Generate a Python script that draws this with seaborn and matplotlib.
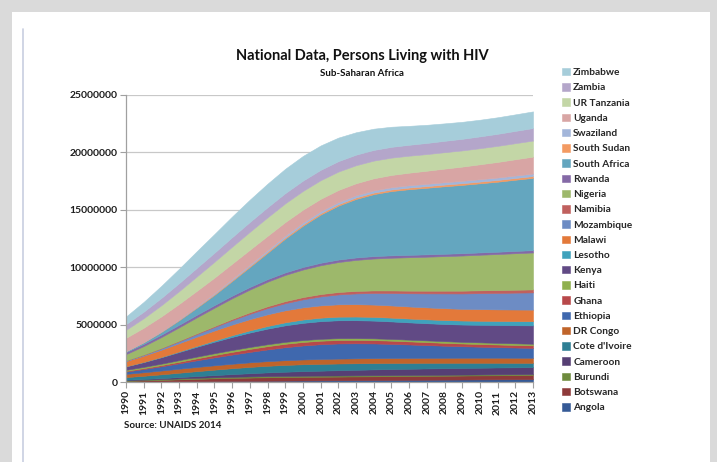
import matplotlib
matplotlib.use("Agg")
import matplotlib.pyplot as plt
import seaborn as sns
import pandas as pd
from matplotlib.patches import Rectangle
from matplotlib.lines import Line2D
from matplotlib.ticker import FuncFormatter

years = list(range(1990, 2014))

# values in thousands of persons, 1990..2013
angola = [28, 36, 45, 55, 66, 77, 88, 99, 110, 121, 132, 142, 152, 162, 172, 181, 190, 199, 208, 217, 226, 234, 242, 250]
botswana = [70, 100, 135, 175, 210, 240, 265, 285, 300, 310, 315, 318, 320, 322, 325, 328, 332, 336, 340, 344, 348, 352, 356, 360]
burundi = [58, 66, 74, 82, 89, 95, 99, 101, 102, 101, 99, 97, 95, 93, 91, 89, 87, 86, 85, 84, 83, 83, 82, 82]
cameroon = [40, 60, 85, 115, 150, 190, 235, 280, 325, 365, 400, 430, 460, 485, 510, 530, 545, 560, 570, 580, 588, 595, 600, 605]
cote_divoire = [230, 280, 330, 380, 430, 475, 515, 550, 575, 592, 600, 595, 585, 570, 550, 530, 510, 490, 470, 450, 430, 410, 390, 370]
dr_congo = [280, 305, 330, 350, 365, 378, 388, 397, 405, 410, 415, 420, 425, 428, 430, 432, 434, 436, 438, 440, 442, 443, 444, 445]
ethiopia = [200, 280, 370, 470, 580, 690, 800, 910, 1020, 1130, 1220, 1290, 1320, 1310, 1280, 1230, 1170, 1110, 1050, 1000, 960, 920, 890, 860]
ghana = [60, 80, 105, 135, 170, 205, 235, 262, 285, 300, 305, 305, 300, 295, 290, 280, 270, 260, 250, 240, 235, 230, 225, 222]
haiti = [95, 110, 125, 140, 150, 158, 163, 166, 168, 168, 166, 163, 160, 157, 155, 152, 150, 148, 146, 144, 142, 141, 140, 139]
kenya = [300, 420, 560, 710, 860, 1000, 1140, 1260, 1360, 1440, 1500, 1540, 1560, 1560, 1545, 1525, 1505, 1495, 1495, 1505, 1525, 1550, 1575, 1600]
lesotho = [8, 15, 28, 48, 75, 110, 150, 190, 230, 265, 290, 305, 315, 320, 325, 330, 335, 340, 345, 350, 355, 358, 360, 362]
malawi = [450, 540, 630, 720, 800, 870, 930, 980, 1020, 1045, 1060, 1070, 1075, 1075, 1070, 1060, 1050, 1040, 1030, 1020, 1015, 1010, 1010, 1010]
mozambique = [50, 80, 120, 170, 230, 300, 380, 460, 540, 620, 700, 780, 860, 940, 1010, 1080, 1150, 1220, 1290, 1340, 1390, 1430, 1470, 1500]
namibia = [10, 18, 30, 45, 65, 85, 110, 135, 160, 180, 195, 205, 212, 218, 222, 226, 230, 234, 238, 242, 246, 250, 254, 258]
nigeria = [550, 740, 950, 1170, 1390, 1600, 1800, 1980, 2140, 2280, 2400, 2510, 2610, 2700, 2780, 2850, 2910, 2960, 3010, 3060, 3100, 3140, 3180, 3220]
rwanda = [180, 195, 210, 220, 225, 228, 228, 226, 224, 222, 220, 218, 216, 214, 212, 210, 208, 206, 205, 204, 203, 202, 201, 200]
south_africa = [60, 130, 240, 400, 620, 900, 1280, 1750, 2300, 2950, 3600, 4200, 4700, 5100, 5400, 5600, 5720, 5800, 5880, 5950, 6020, 6100, 6200, 6300]
south_sudan = [20, 30, 40, 50, 60, 70, 80, 90, 100, 108, 115, 120, 125, 130, 134, 138, 141, 144, 146, 148, 150, 152, 153, 155]
swaziland = [8, 15, 25, 40, 58, 78, 98, 118, 135, 150, 163, 172, 180, 186, 190, 194, 197, 200, 203, 206, 208, 210, 212, 214]
uganda = [1150, 1230, 1290, 1330, 1350, 1350, 1330, 1290, 1240, 1180, 1120, 1080, 1060, 1050, 1055, 1070, 1100, 1140, 1190, 1240, 1300, 1360, 1420, 1480]
ur_tanzania = [700, 830, 970, 1110, 1250, 1380, 1480, 1560, 1610, 1630, 1630, 1620, 1600, 1570, 1540, 1510, 1480, 1450, 1430, 1410, 1400, 1400, 1400, 1400]
zambia = [500, 570, 640, 700, 750, 790, 830, 860, 880, 890, 900, 905, 910, 920, 930, 940, 950, 970, 990, 1010, 1030, 1050, 1070, 1090]
zimbabwe = [660, 850, 1050, 1250, 1450, 1630, 1800, 1940, 2050, 2120, 2150, 2120, 2050, 1950, 1850, 1750, 1650, 1580, 1520, 1480, 1450, 1440, 1440, 1450]

countries = ["Angola", "Botswana", "Burundi", "Cameroon", "Cote d'Ivoire", "DR Congo",
             "Ethiopia", "Ghana", "Haiti", "Kenya", "Lesotho", "Malawi", "Mozambique",
             "Namibia", "Nigeria", "Rwanda", "South Africa", "South Sudan", "Swaziland",
             "Uganda", "UR Tanzania", "Zambia", "Zimbabwe"]
series = [angola, botswana, burundi, cameroon, cote_divoire, dr_congo, ethiopia, ghana,
          haiti, kenya, lesotho, malawi, mozambique, namibia, nigeria, rwanda,
          south_africa, south_sudan, swaziland, uganda, ur_tanzania, zambia, zimbabwe]

colors = ["#355A96", "#8E3A3A", "#6E8B3D", "#563F74", "#2E7F94", "#C0642A",
          "#3F68AE", "#B8484A", "#8FB04E", "#614A85", "#3FA2BC", "#E3793A",
          "#6D8CC4", "#C0605E", "#9DB86B", "#8469A6", "#64A6BF", "#F39A62",
          "#A3B6DA", "#D8A5A4", "#C3D6A6", "#B4A6CA", "#A6CDDA"]

df = pd.DataFrame({c: [v * 1000 for v in s] for c, s in zip(countries, series)}, index=years)

sns.set_theme(style="white")
plt.rcParams['font.family'] = ['Lato', 'DejaVu Sans']

W, H = 717, 462
fig = plt.figure(figsize=(W / 100, H / 100), dpi=100, facecolor="#DADADA")
fig.patches.append(Rectangle((12 / W, 0), 698 / W, 450 / H, transform=fig.transFigure,
                             facecolor="white", edgecolor="none", zorder=-10))
fig.lines.append(Line2D([23 / W, 23 / W], [0, (H - 29) / H], transform=fig.transFigure,
                        color="#C8CEE0", lw=1.2, zorder=-5))

ax = fig.add_axes([126 / W, 80 / H, 407 / W, 287 / H])
ax.set_zorder(5)
ax.set_facecolor("white")

polys = ax.stackplot(df.index, *[df[c].values for c in countries], colors=colors,
                     labels=countries, linewidth=0.4)
for p, c in zip(polys, colors):
    p.set_edgecolor(c)

ax.set_xlim(1990, 2013)
ax.set_ylim(0, 25000000)
ax.set_yticks(list(range(0, 25000001, 5000000)))
ax.yaxis.set_major_formatter(FuncFormatter(lambda v, p: f"{int(v)}"))
ax.set_xticks(years)
ax.set_xticklabels([str(y) for y in years], rotation=90, fontweight="bold")
ax.yaxis.grid(True, color="#C8C8C8", lw=0.9)
ax.xaxis.grid(False)
ax.set_axisbelow(True)
for s in ["top", "right"]:
    ax.spines[s].set_visible(False)
for s in ["left", "bottom"]:
    ax.spines[s].set_color("#A0A0A0")
    ax.spines[s].set_linewidth(0.9)
ax.tick_params(axis="both", direction="out", length=4, width=0.8, color="#A0A0A0",
               labelsize=7.5, pad=2, labelcolor="#1E1E1E")
ax.tick_params(axis="y", left=True)
ax.tick_params(axis="x", bottom=True)
for t in ax.get_yticklabels():
    t.set_fontweight("bold")

handles, labels = ax.get_legend_handles_labels()
fig.legend(handles[::-1], labels[::-1], loc="upper left",
           bbox_to_anchor=(562 / W, (H - 68) / H), frameon=False,
           handlelength=0.75, handleheight=0.75, handletextpad=0.35,
           labelspacing=0.59, borderpad=0, borderaxespad=0,
           prop={"weight": "bold", "size": 7.3})

fig.text(362 / W, (H - 56) / H, "National Data, Persons Living with HIV", ha="center",
         va="center", fontsize=10.5, fontweight="bold", color="#111111")
fig.text(362 / W, (H - 73) / H, "Sub-Saharan Africa", ha="center", va="center",
         fontsize=7, fontweight="bold", color="#111111")
fig.text(124 / W, (H - 426) / H, "Source: UNAIDS 2014", ha="left", va="center",
         fontsize=7, fontweight="bold", color="#1E1E1E")

fig.savefig("out.png", dpi=100, facecolor=fig.get_facecolor())
